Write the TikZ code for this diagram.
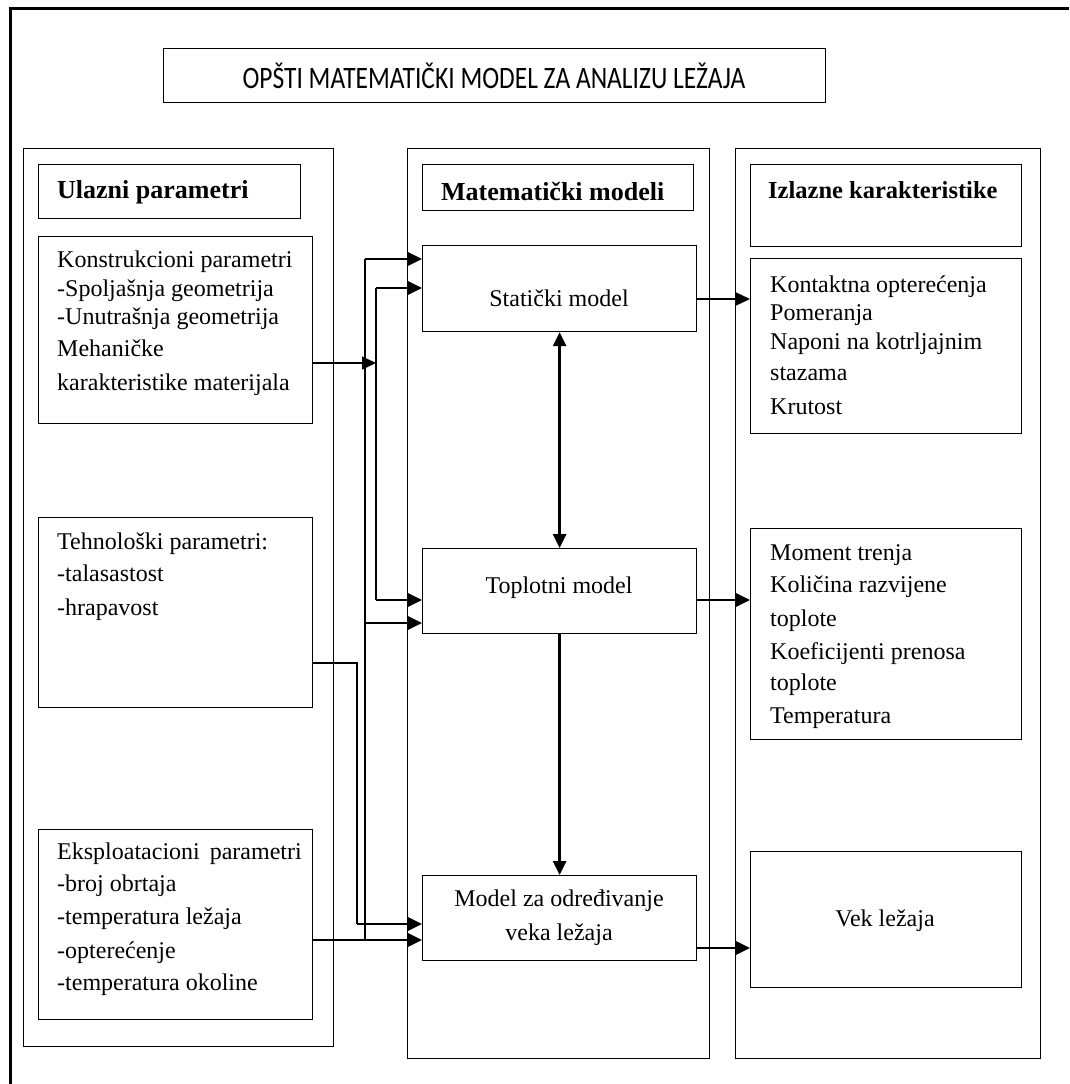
\documentclass[tikz,border=0pt]{standalone}
\usepackage{fontspec}
\setmainfont{Liberation Serif}
\newfontfamily\titlefont{Carlito}
\usetikzlibrary{arrows.meta}
\begin{document}
\begin{tikzpicture}[x=1pt,y=-1pt,
  box/.style={draw, line width=1.2pt, inner sep=0pt, anchor=north west},
  txt/.style={inner sep=0pt, anchor=base west, font=\fontsize{24}{29}\selectfont},
  ctxt/.style={inner sep=0pt, anchor=base, font=\fontsize{24}{29}\selectfont},
  hd/.style={inner sep=0pt, anchor=base west, font=\bfseries\fontsize{26}{30}\selectfont},
  tip/.tip={Triangle[length=14pt,width=13pt]},
  thinarr/.style={line width=1.4pt, -tip},
  thickarr/.style={line width=2.8pt, -tip},
  wire/.style={line width=1.4pt},
]
\useasboundingbox (0,0) rectangle (1069,1084);

% outer frame (top and left edges)
\draw[line width=3pt] (10,1084) -- (10,8) -- (1069,8);

% title
\node[box, minimum width=662pt, minimum height=54pt] (title) at (163,48) {};
\node[inner sep=0pt, anchor=base, font=\titlefont\fontsize{26}{30}\selectfont] (titletxt) at (494,88)
  {\scalebox{0.98}[1.2]{OPŠTI MATEMATIČKI MODEL ZA ANALIZU LEŽAJA}};

% columns
\node[box, minimum width=310pt, minimum height=898pt] (colL) at (23,148) {};
\node[box, minimum width=302pt, minimum height=910pt] (colM) at (407,148) {};
\node[box, minimum width=305pt, minimum height=910pt] (colR) at (735,148) {};

% left column boxes
\node[box, minimum width=262pt, minimum height=54pt] (hUl) at (38,164) {};
\node[box, minimum width=274pt, minimum height=187pt] (kon) at (38,236) {};
\node[box, minimum width=274pt, minimum height=190pt] (teh) at (38,517) {};
\node[box, minimum width=274pt, minimum height=190pt] (eks) at (38,829) {};

% middle column boxes
\node[box, minimum width=271pt, minimum height=46pt] (hMat) at (422,164) {};
\node[box, minimum width=274pt, minimum height=86pt] (stat) at (422,245) {};
\node[box, minimum width=274pt, minimum height=85pt] (topl) at (422,548) {};
\node[box, minimum width=274pt, minimum height=85pt] (model) at (422,875) {};

% right column boxes
\node[box, minimum width=271pt, minimum height=82pt] (hIz) at (750,164) {};
\node[box, minimum width=271pt, minimum height=175pt] (kont) at (750,258) {};
\node[box, minimum width=271pt, minimum height=211pt] (mom) at (750,528) {};
\node[box, minimum width=271pt, minimum height=136pt] (vek) at (750,851) {};

% headings
\node[hd] (tUl) at (57,198) {Ulazni parametri};
\node[hd] (tMat) at (441,200) {Matematički modeli};
\node[hd, font=\bfseries\fontsize{24.5}{30}\selectfont] (tIz) at (768,198) {Izlazne karakteristike};

% left texts
\foreach \t/\y [count=\i] in {Konstrukcioni parametri/267, -Spoljašnja geometrija/296,
    -Unutrašnja geometrija/324, Mehaničke/356, karakteristike materijala/390}
  \node[txt] (kon\i) at (57,\y) {\t};
\foreach \t/\y [count=\i] in {Tehnološki parametri:/549, -talasastost/581, -hrapavost/615}
  \node[txt] (teh\i) at (57,\y) {\t};
\foreach \t/\y [count=\i] in {Eksploatacioni\hspace{4pt} parametri/859, -broj obrtaja/891,
    -temperatura ležaja/924, -opterećenje/958, -temperatura okoline/990}
  \node[txt] (eks\i) at (57,\y) {\t};

% right texts
\foreach \t/\y [count=\i] in {Kontaktna opterećenja/292, Pomeranja/320,
    Naponi na kotrljajnim/349, stazama/380, Krutost/414}
  \node[txt] (kont\i) at (770,\y) {\t};
\foreach \t/\y [count=\i] in {Moment trenja/560, Količina razvijene/592, toplote/626,
    Koeficijenti prenosa/659, toplote/690, Temperatura/723}
  \node[txt] (mom\i) at (770,\y) {\t};
\node[ctxt] (tVek) at (885,926) {Vek ležaja};

% middle texts
\node[ctxt] (tStat) at (559,306) {Statički model};
\node[ctxt] (tTopl) at (559,593) {Toplotni model};
\node[ctxt] (tMod1) at (559,906) {Model za određivanje};
\node[ctxt] (tMod2) at (559,940) {veka ležaja};

% junctions
\coordinate (a1) at (376,363);
\coordinate (aTop) at (376,288);
\coordinate (aBot) at (376,600);
\coordinate (bTop) at (365,259);
\coordinate (bMid) at (365,623);
\coordinate (bBot) at (365,940);
\coordinate (c1) at (357,663);
\coordinate (c2) at (357,924);

% konstrukcioni -> bus A
\draw[thinarr] (kon.east |- a1) -- (a1);
\draw[wire] (aTop) -- (aBot);
\draw[thickarr] (aTop) -- (stat.west |- aTop);
\draw[thickarr] (aBot) -- (topl.west |- aBot);

% eksploatacioni -> bus B
\draw[wire] (bTop) -- (bBot);
\draw[thickarr] (bTop) -- (stat.west |- bTop);
\draw[thickarr] (bMid) -- (topl.west |- bMid);
\draw[thickarr] (eks.east |- bBot) -- (model.west |- bBot);

% tehnoloski -> model
\draw[wire] (teh.east |- c1) -- (c1) -- (c2);
\draw[thickarr] (c2) -- (model.west |- c2);

% middle column links
\draw[line width=2.8pt, tip-tip] (stat.south) -- (topl.north);
\draw[thickarr] (topl.south) -- (model.north);

% outputs
\draw[thinarr] (stat.east |- 0,299) -- (kont.west |- 0,299);
\draw[thickarr] (topl.east |- 0,600) -- (mom.west |- 0,600);
\draw[thickarr] (model.east |- 0,948) -- (vek.west |- 0,948);
\end{tikzpicture}
\end{document}
